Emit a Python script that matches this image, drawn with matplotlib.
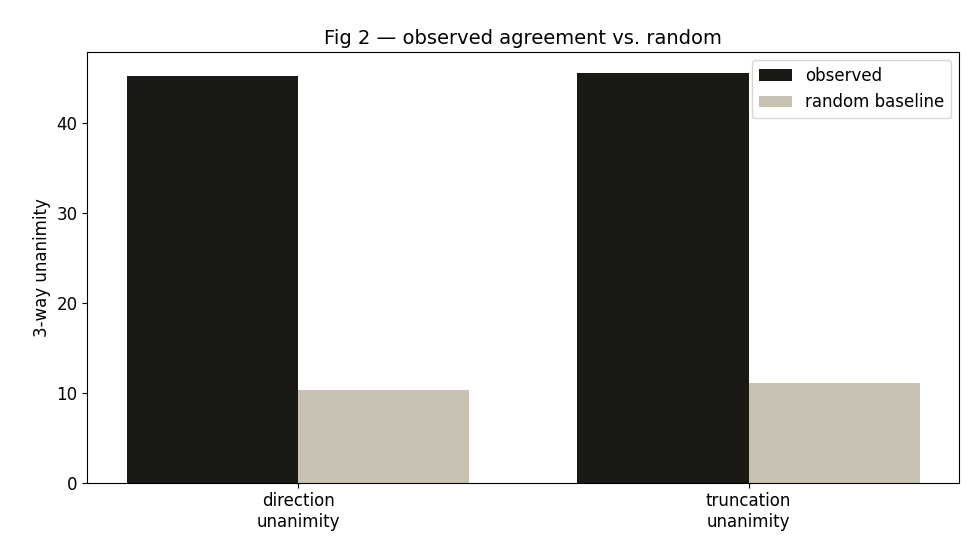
import matplotlib
matplotlib.use("Agg")
import matplotlib.pyplot as plt
import numpy as np

categories = ["direction\nunanimity", "truncation\nunanimity"]
observed = [45.2, 45.6]
random_baseline = [10.3, 11.1]

fig, ax = plt.subplots(figsize=(9.8, 5.6), dpi=100)
x = np.arange(len(categories))
w = 0.38
ax.bar(x - w/2, observed, w, color="#1a1915", label="observed")
ax.bar(x + w/2, random_baseline, w, color="#c9c1b2", label="random baseline")
ax.set_xticks(x)
ax.set_xticklabels(categories, fontsize=12)
ax.tick_params(axis="y", labelsize=12)
ax.set_ylabel("3-way unanimity", fontsize=12)
ax.set_title("Fig 2 — observed agreement vs. random", fontsize=14)
ax.legend(fontsize=12, loc="upper right")
fig.subplots_adjust(left=0.089, right=0.979, top=0.907, bottom=0.138)
fig.savefig("out.png")
